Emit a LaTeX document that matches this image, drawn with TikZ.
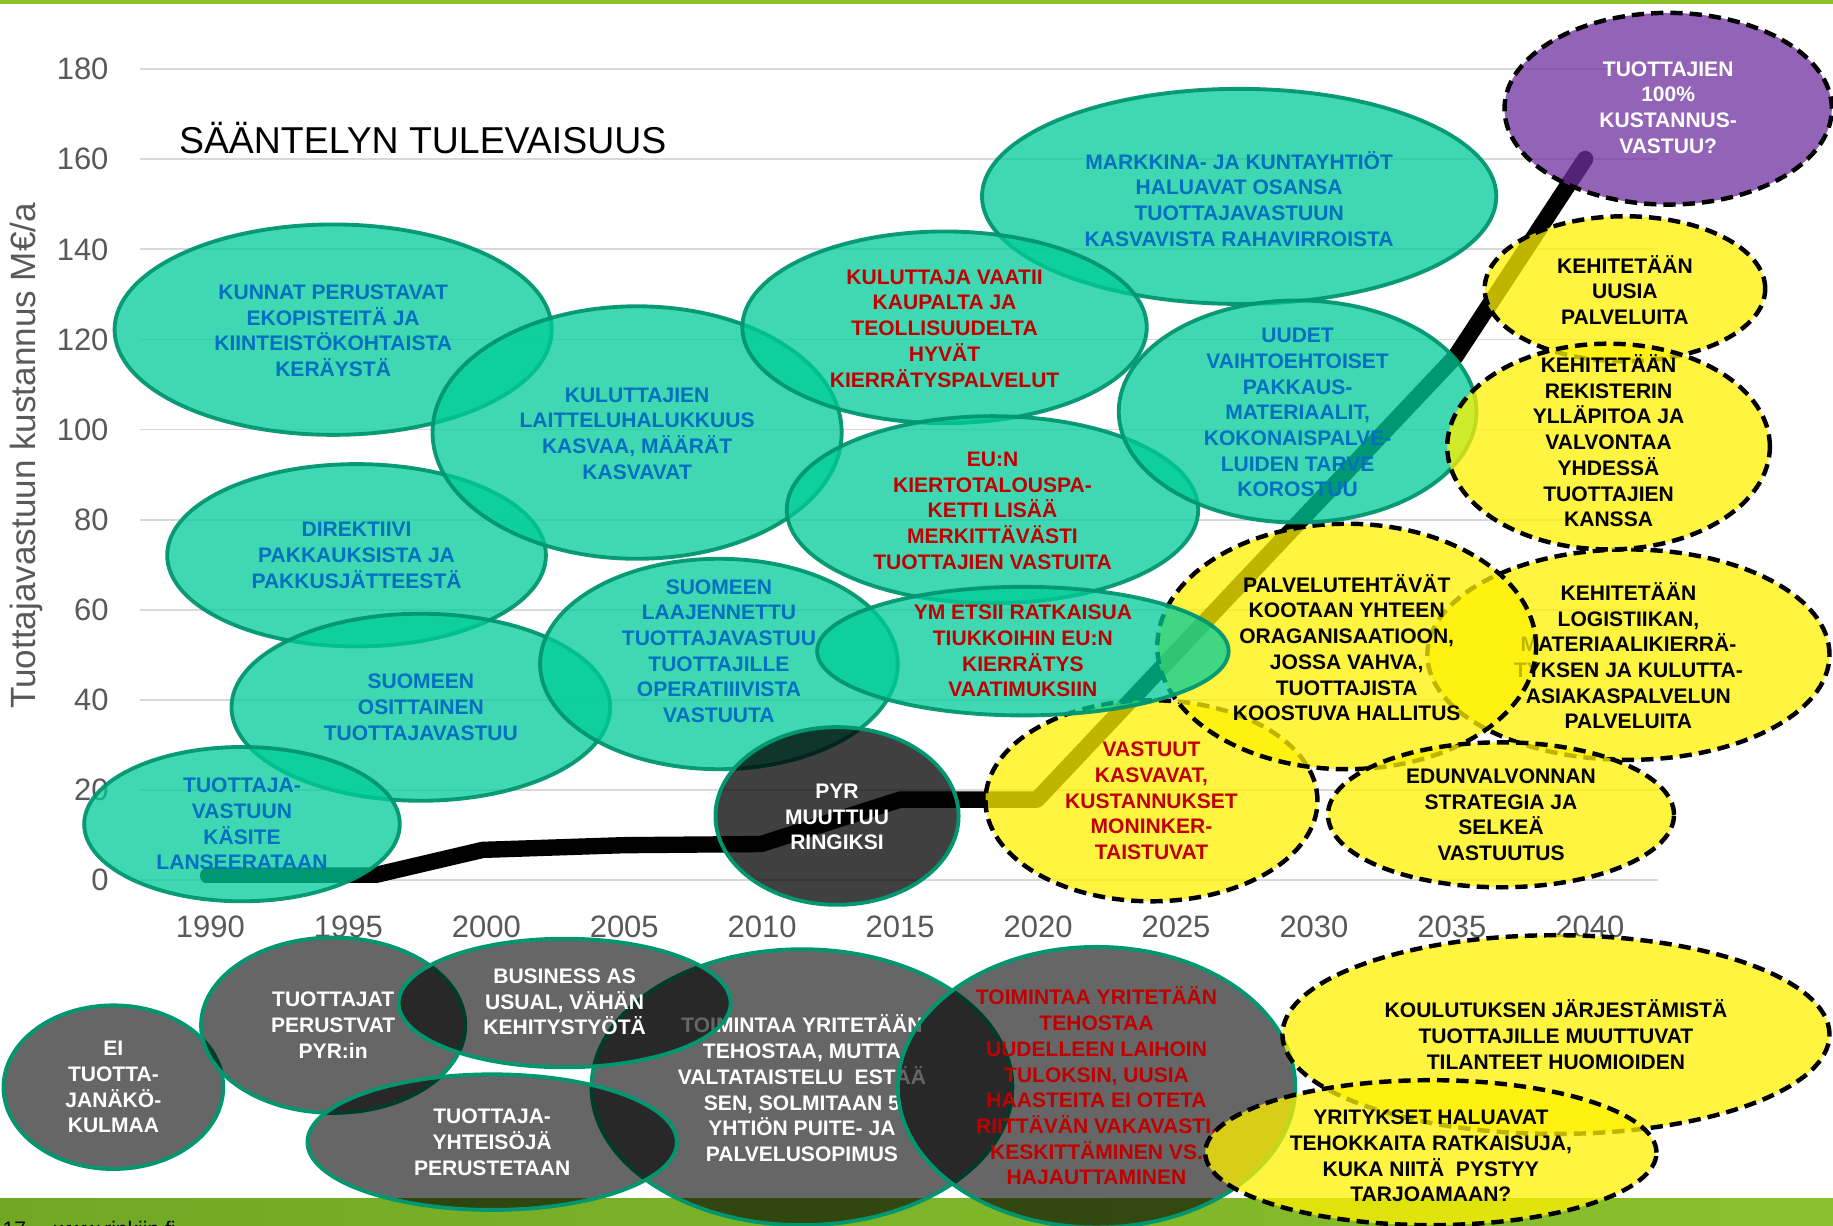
\documentclass[tikz,border=0pt]{standalone}
\usepackage{fontspec}
\setmainfont{Liberation Sans}
\definecolor{tealF}{RGB}{0,204,153}
\definecolor{tealD}{RGB}{0,150,112}
\definecolor{txtblue}{RGB}{0,112,192}
\definecolor{txtred}{RGB}{192,0,0}
\definecolor{purp}{RGB}{112,48,160}
\definecolor{axgray}{RGB}{89,89,89}
\definecolor{gridgray}{RGB}{217,217,217}
\definecolor{barL}{RGB}{112,168,36}
\definecolor{barR}{RGB}{140,192,46}
\newcommand\mkell[4]{\path[#1] (#2) ellipse [x radius=#3pt, y radius=#4pt];}
\begin{document}
\begin{tikzpicture}[x=1pt,y=-1pt,
  tealE/.style={fill=tealF,fill opacity=.75,draw=tealD,draw opacity=.95,line width=3.3pt},
  yelE/.style={fill=yellow,fill opacity=.75,draw=black,line width=3.8pt,dash pattern=on 10.5pt off 6pt},
  purE/.style={fill=purp,fill opacity=.75,draw=black,line width=3.8pt,dash pattern=on 10.5pt off 6pt},
  grayE/.style={fill=black,fill opacity=.6,draw=tealD,line width=3.3pt},
  pyrE/.style={fill=black,fill opacity=.75,draw=tealD,line width=3.3pt},
  lbl/.style={font=\bfseries\fontsize{18}{22}\selectfont,align=center,inner sep=0pt},
  bl/.style={lbl,text=txtblue}, rd/.style={lbl,text=txtred},
  bk/.style={lbl,text=black}, wh/.style={lbl,text=white},
  axl/.style={font=\fontsize{26.5}{30}\selectfont,text=axgray,inner sep=0pt},
  grid line/.style={draw=gridgray,line width=1.5pt}]
\useasboundingbox (0,0) rectangle (1568,1048);
\clip (0,0) rectangle (1568,1048);
\fill[white] (0,0) rectangle (1568,1048);
% top and bottom bars
\fill[barR] (0,0) rectangle (1568,3);
\shade[left color=barL,right color=barR] (0,1025) rectangle (1568,1048);
\node[font=\fontsize{18}{22}\selectfont,anchor=base west,inner sep=0pt] (pg) at (2,1058) {17\hspace{24pt}www.rinkiin.fi};
% grid
\foreach \v/\t in {0/0,1/20,2/40,3/60,4/80,5/100,6/120,7/140,8/160,9/180}{
  \path[grid line] (120,753-77.1*\v) -- (1418,753-77.1*\v);
  \node[axl,anchor=east] (ylab\t) at (93,753-77.1*\v) {\t};
}
\foreach \i/\yr in {0/1990,1/1995,2/2000,3/2005,4/2010,5/2015,6/2020,7/2025,8/2030,9/2035,10/2040}{
  \node[axl] (xlab\yr) at (180+118*\i,793) {\yr};
}
\node[rotate=90,font=\fontsize{30}{36}\selectfont,text=axgray,inner sep=0pt] (ytitle) at (23,390) {Tuottajavastuun kustannus M€/a};
\node[font=\fontsize{32}{38}\selectfont,anchor=west,inner sep=0pt] (title) at (153,118) {SÄÄNTELYN TULEVAISUUS};
% cost curve (clipped at the zero line like a chart plot area)
\begin{scope}
\clip (0,0) rectangle (1568,755);
\draw[line width=14pt,line cap=round,line join=round] (178,749) -- (319,749) -- (413,727) -- (533,723) -- (651,722) -- (770,684) -- (887,684) -- (1245,305) -- (1356,136);
\end{scope}
% teal ellipses
\mkell{tealE}{285,282}{187}{90}
\node[bl] (a) at (285,283) {KUNNAT PERUSTAVAT\\EKOPISTEITÄ JA\\KIINTEISTÖKOHTAISTA\\KERÄYSTÄ};
\mkell{tealE}{305,475}{162}{78}
\node[bl] (c) at (305,475) {DIREKTIIVI\\PAKKAUKSISTA JA\\PAKKUSJÄTTEESTÄ};
\mkell{tealE}{545,370}{175}{108}
\node[bl] (b) at (545,371) {KULUTTAJIEN\\LAITTELUHALUKKUUS\\KASVAA, MÄÄRÄT\\KASVAVAT};
\mkell{tealE}{360,605}{162}{80}
\node[bl] (d) at (360,605) {SUOMEEN\\OSITTAINEN\\TUOTTAJAVASTUU};
\mkell{tealE}{207,705}{135}{66}
\node[bl] (e) at (207,705) {TUOTTAJA-\\VASTUUN\\KÄSITE\\LANSEERATAAN};
\mkell{tealE}{615,568}{153}{90}
\node[bl] (f) at (615,557) {SUOMEEN\\LAAJENNETTU\\TUOTTAJAVASTUU\\TUOTTAJILLE\\OPERATIIIVISTA\\VASTUUTA};
\mkell{tealE}{1060,168}{220}{92}
\node[bl] (h) at (1060,170) {MARKKINA- JA KUNTAYHTIÖT\\HALUAVAT OSANSA\\TUOTTAJAVASTUUN\\KASVAVISTA RAHAVIRROISTA};
\mkell{tealE}{808,280}{173}{82}
\node[rd] (g) at (808,281) {KULUTTAJA VAATII\\KAUPALTA JA\\TEOLLISUUDELTA\\HYVÄT\\KIERRÄTYSPALVELUT};
\mkell{tealE}{849,436}{176}{80}
\node[rd] (i) at (849,437) {EU:N\\KIERTOTALOUSPA-\\KETTI LISÄÄ\\MERKITTÄVÄSTI\\TUOTTAJIEN VASTUITA};
% yellow ellipses (lower layer)
\mkell{yelE}{985,685}{142}{86}
\node[rd] (y1) at (985,685) {VASTUUT\\KASVAVAT,\\KUSTANNUKSET\\MONINKER-\\TAISTUVAT};
\mkell{yelE}{1393,560}{172}{90}
\node[bk] (y3) at (1393,561) {KEHITETÄÄN\\LOGISTIIKAN,\\MATERIAALIKIERRÄ-\\TYKSEN JA KULUTTA-\\ASIAKASPALVELUN\\PALVELUITA};
\mkell{yelE}{1152,553}{162}{105}
\node[bk] (y2) at (1152,554) {PALVELUTEHTÄVÄT\\KOOTAAN YHTEEN\\ORAGANISAATIOON,\\JOSSA VAHVA,\\TUOTTAJISTA\\KOOSTUVA HALLITUS};
% teal on top of yellow
\mkell{tealE}{1110,352}{153}{95}
\node[bl] (j) at (1110,353) {UUDET\\VAIHTOEHTOISET\\PAKKAUS-\\MATERIAALIT,\\KOKONAISPALVE-\\LUIDEN TARVE\\KOROSTUU};
\mkell{tealE}{875,557}{176}{55}
\node[rd] (k) at (875,557) {YM ETSII RATKAISUA\\TIUKKOIHIN EU:N\\KIERRÄTYS\\VAATIMUKSIIN};
\mkell{pyrE}{716,698}{104}{76}
\node[wh] (pyr) at (716,699) {PYR\\MUUTTUU\\RINGIKSI};
% upper yellow / purple
\mkell{yelE}{1284,697}{148}{62}
\node[bk] (y4) at (1284,697) {EDUNVALVONNAN\\STRATEGIA JA\\SELKEÄ\\VASTUUTUS};
\mkell{yelE}{1390,247}{120}{62}
\node[bk] (y5) at (1390,248) {KEHITETÄÄN\\UUSIA\\PALVELUITA};
\mkell{yelE}{1376,382}{138}{88}
\node[bk] (y6) at (1376,377) {KEHITETÄÄN\\REKISTERIN\\YLLÄPITOA JA\\VALVONTAA\\YHDESSÄ\\TUOTTAJIEN\\KANSSA};
\mkell{purE}{1427,93}{140}{82}
\node[wh] (p) at (1427,92) {TUOTTAJIEN\\100\%\\KUSTANNUS-\\VASTUU?};
% bottom gray ellipses
\mkell{grayE}{97,930}{94}{70}
\node[wh] (g1) at (97,930) {EI\\TUOTTA-\\JANÄKÖ-\\KULMAA};
\mkell{grayE}{285,877}{113}{75}
\node[wh] (g2) at (285,877) {TUOTTAJAT\\PERUSTVAT\\PYR:in};
\mkell{grayE}{686,930}{180}{118}
\node[wh] (g5) at (686,931) {TOIMINTAA YRITETÄÄN\\TEHOSTAA, MUTTA\\VALTATAISTELU\ \ ESTÄÄ\\SEN, SOLMITAAN 5\\YHTIÖN PUITE- JA\\PALVELUSOPIMUS};
\mkell{grayE}{421,977}{158}{58}
\node[wh] (g4) at (421,977) {TUOTTAJA-\\YHTEISÖJÄ\\PERUSTETAAN};
\mkell{grayE}{483,858}{142}{55}
\node[wh] (g3) at (483,857) {BUSINESS AS\\USUAL, VÄHÄN\\KEHITYSTYÖTÄ};
\mkell{grayE}{938,930}{170}{120}
\node[rd] (g6) at (938,929) {TOIMINTAA YRITETÄÄN\\TEHOSTAA\\UUDELLEEN LAIHOIN\\TULOKSIN, UUSIA\\HAASTEITA EI OTETA\\RIITTÄVÄN VAKAVASTI.\\KESKITTÄMINEN VS.\\HAJAUTTAMINEN};
\mkell{yelE}{1331,885}{234}{85}
\node[bk] (y7) at (1331,885) {KOULUTUKSEN JÄRJESTÄMISTÄ\\TUOTTAJILLE MUUTTUVAT\\TILANTEET HUOMIOIDEN};
\mkell{yelE}{1224,986}{193}{62}
\node[bk] (y8) at (1224,989) {YRITYKSET HALUAVAT\\TEHOKKAITA RATKAISUJA,\\KUKA NIITÄ\ \ PYSTYY\\TARJOAMAAN?};
\end{tikzpicture}
\end{document}
